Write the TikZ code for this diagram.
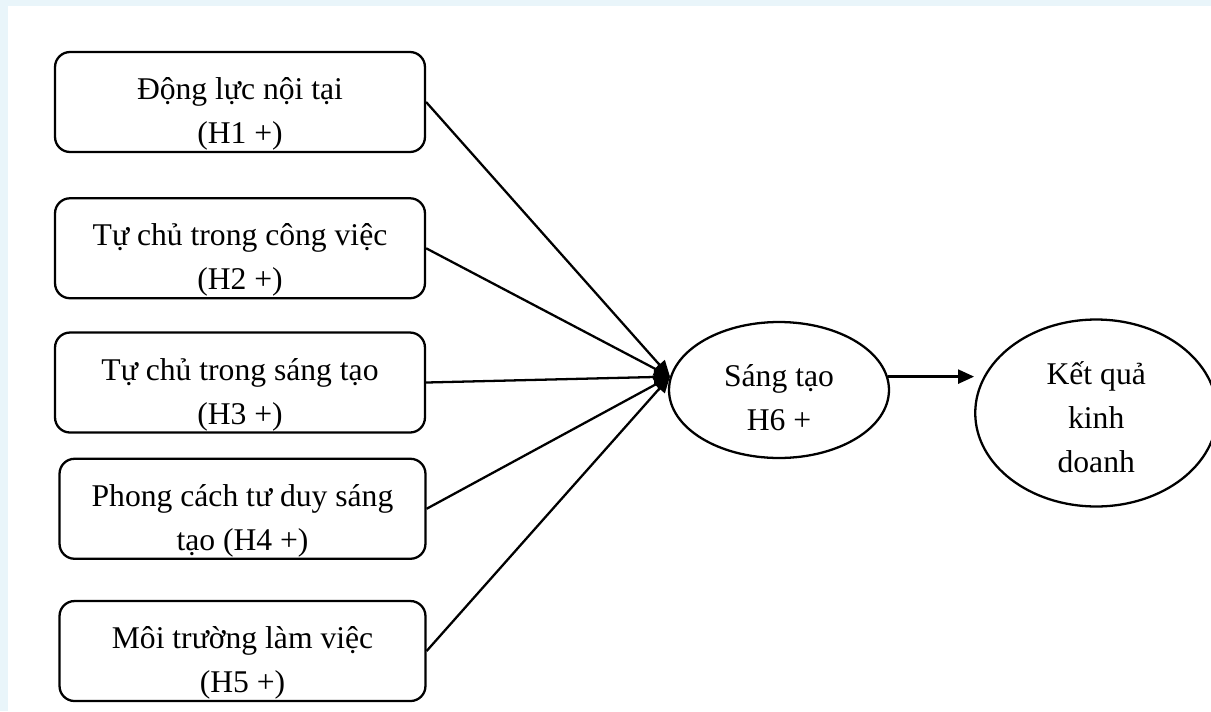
\documentclass[tikz,border=0pt]{standalone}
\usepackage{fontspec}
\setmainfont{Liberation Serif}
\definecolor{PaleBlue}{RGB}{233, 245, 250}
\usetikzlibrary{arrows.meta, positioning, shapes}

\begin{document}
\begin{tikzpicture}[x=0.02cm, y=-0.02cm, >={Triangle[length=0.32cm, width=0.28cm]},
    every node/.style={font=\fontsize{18}{25}\selectfont},
    factor/.style={draw, rectangle, rounded corners=0.3cm, line width=1.3pt, minimum width=7.4cm, minimum height=2cm, inner ysep=0pt, align=center, execute at begin node=\rule{0pt}{1.8cm}},
    result/.style={draw, ellipse, line width=1.3pt, align=center, inner sep=0pt}]
            \useasboundingbox (0,0) rectangle (1211,711);
            \fill[PaleBlue] (0,0) rectangle (1211,711);
            \fill[white] (8,6) rectangle (1211,711);

            \node[factor] (b1) at (240,102) {Động lực nội tại\\(H1 +)};
            \node[factor, below=0.88cm of b1] (b2) {Tự chủ trong công việc\\(H2 +)};
            \node[factor, below=0.64cm of b2] (b3) {Tự chủ trong sáng tạo\\(H3 +)};
            \node[factor, minimum width=7.32cm, below=0.48cm of b3, xshift=0.05cm] (b4) {Phong cách tư duy sáng\\tạo (H4 +)};
            \node[factor, minimum width=7.32cm, below=0.8cm of b4] (b5) {Môi trường làm việc\\(H5 +)};

            \node[result, minimum width=4.4cm, minimum height=2.72cm, execute at begin node=\rule{0pt}{1.64cm}] (san) at (779,390) {Sáng tạo\\H6 +};
            \node[result, minimum width=4.84cm, minimum height=3.74cm, execute at begin node=\rule{0pt}{2.4cm}, right=1.68cm of san, yshift=-0.46cm] (kq) {Kết quả\\kinh\\doanh};

            \draw[->, line width=1.3pt] (b1.east) -- (san.173);
            \draw[->, line width=1.3pt] (b2.east) -- (san.173);
            \draw[->, line width=1.3pt] (b3.east) -- (san.173);
            \draw[->, line width=1.3pt] (b4.east) -- (san.173);
            \draw[->, line width=1.3pt] (b5.east) -- (san.173);
            \draw[->, line width=1.3pt] (san.7) -- (san.7 -| kq.west);
        \end{tikzpicture}
\end{document}
